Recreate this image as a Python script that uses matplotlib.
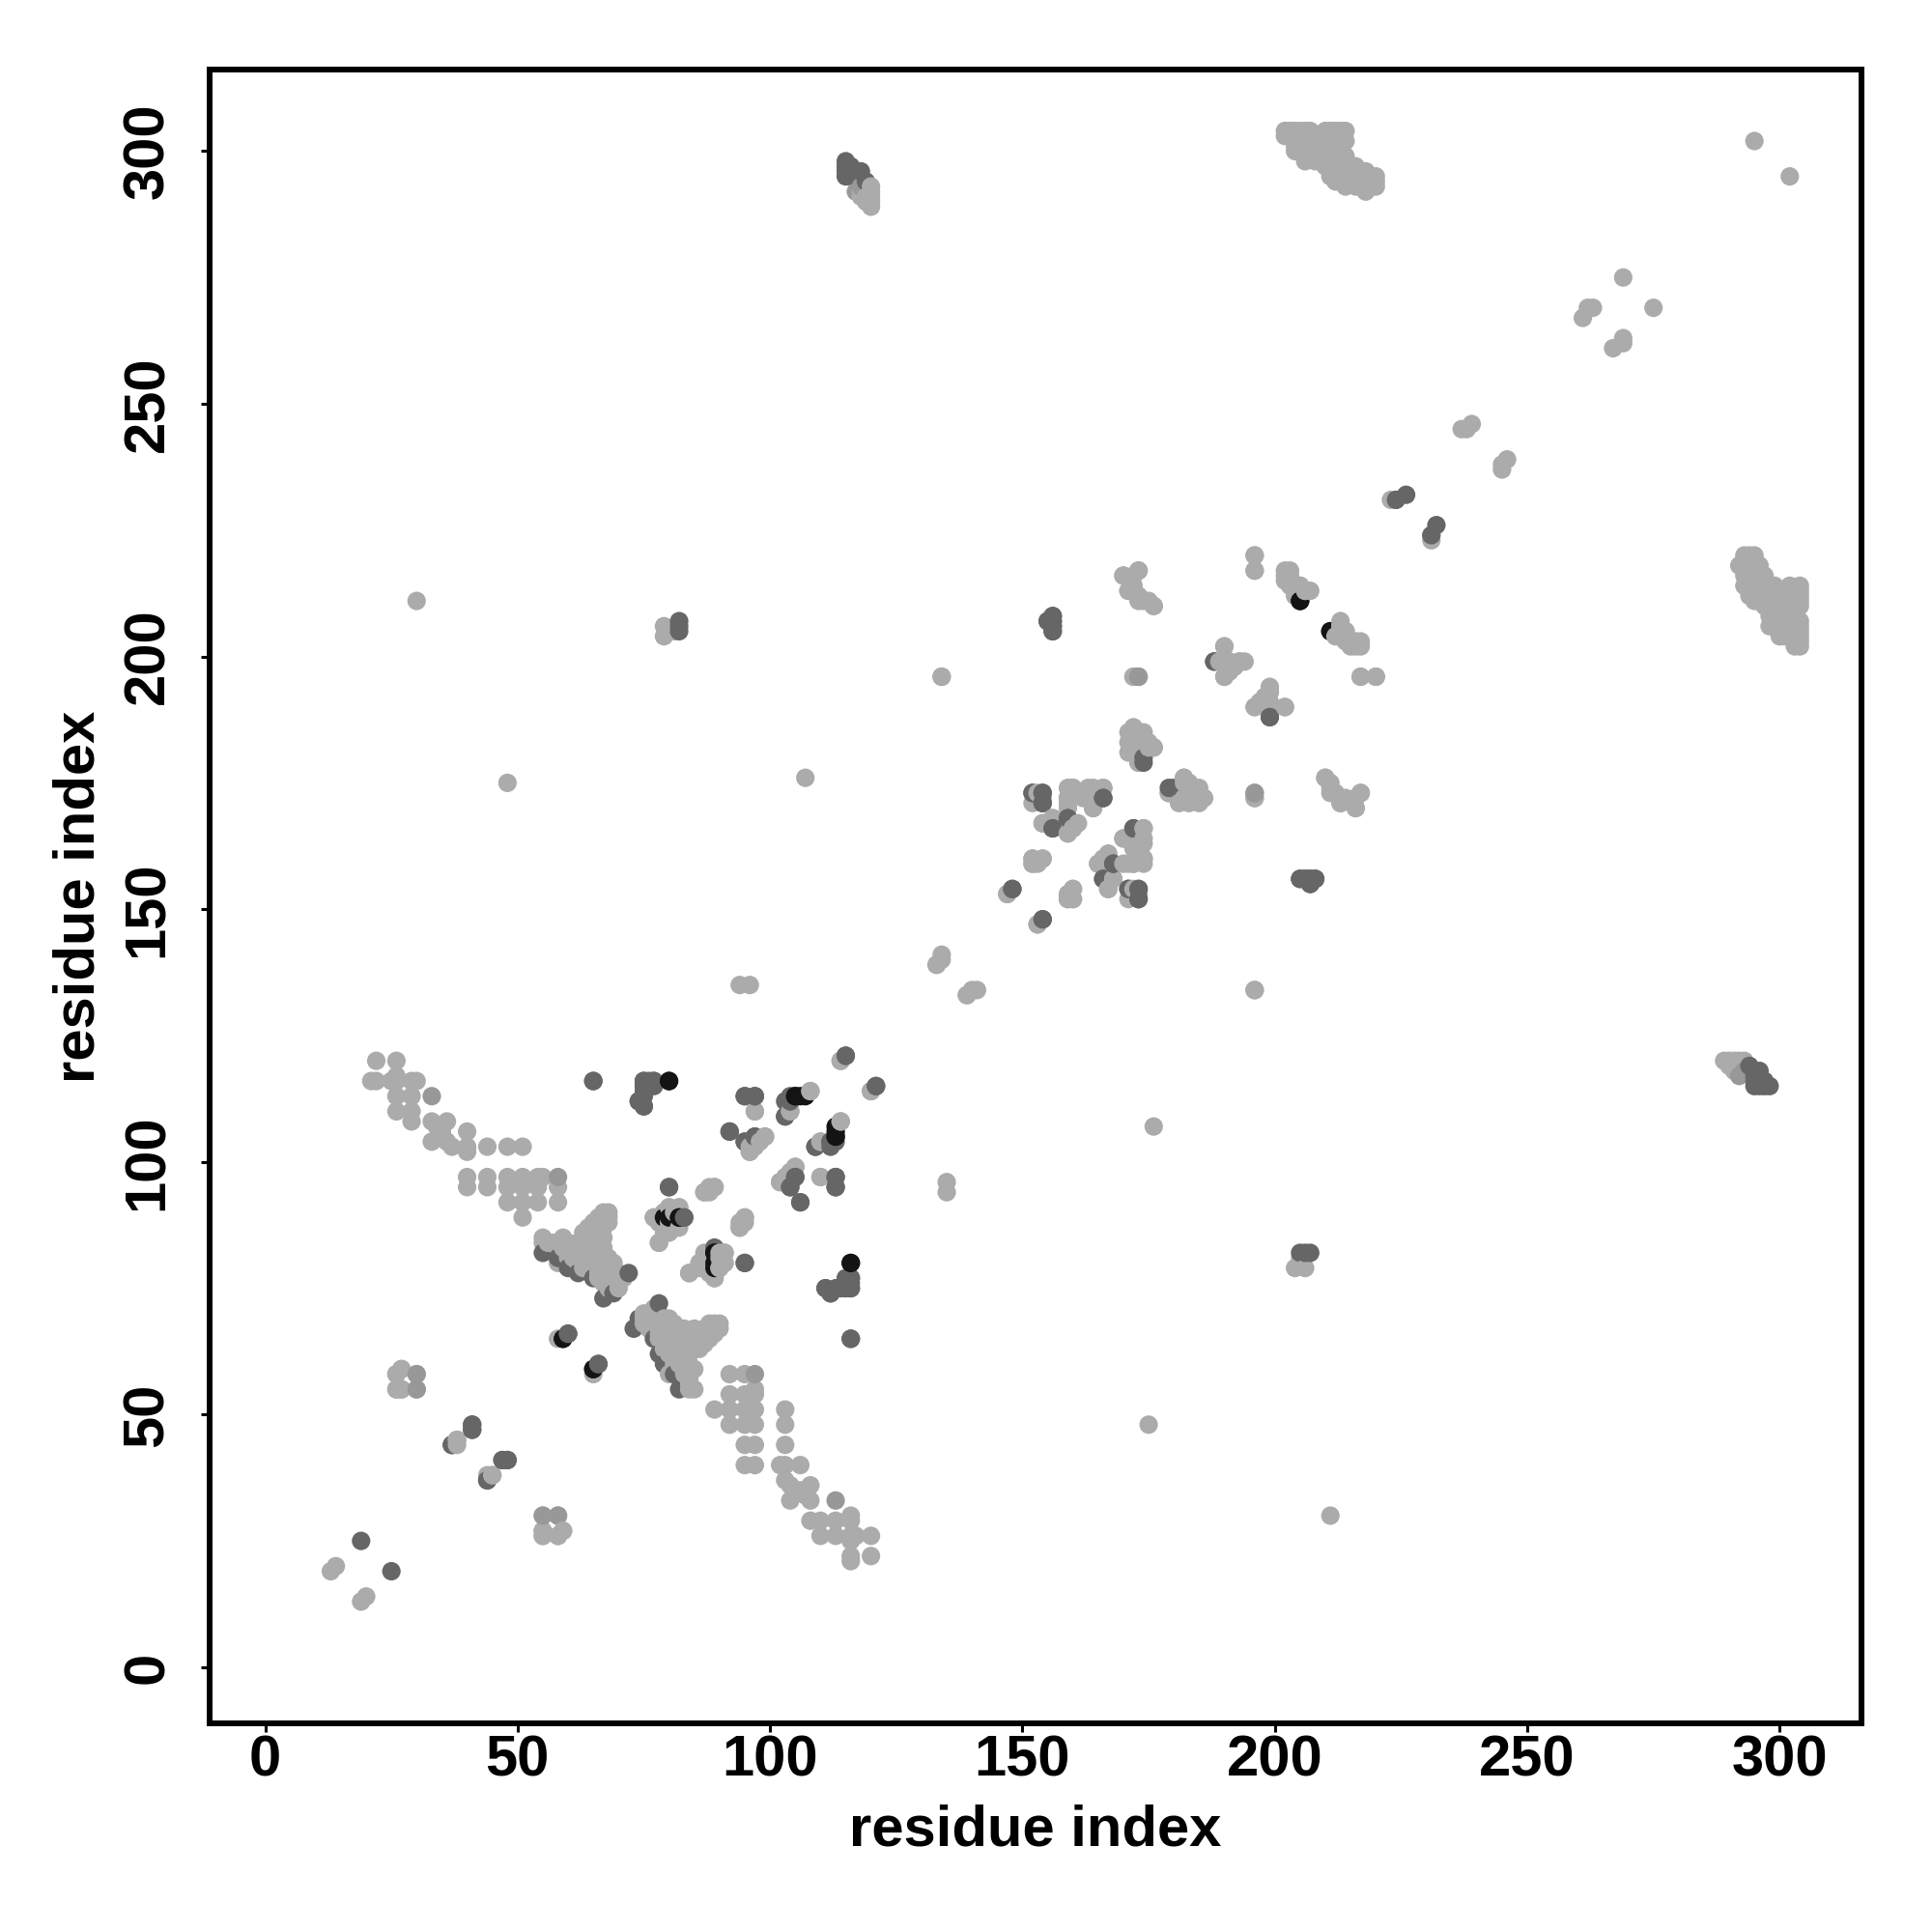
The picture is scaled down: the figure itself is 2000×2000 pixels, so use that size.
# Residue contact map, symmetric, points drawn in order of residue index
import numpy as np
import matplotlib
matplotlib.use('Agg')
import matplotlib.pyplot as plt

plt.rcParams['font.family'] = ['Liberation Sans', 'DejaVu Sans']
plt.rcParams['font.weight'] = 'bold'

tick_values = [0, 50, 100, 150, 200, 250, 300]

# Contacts (i, j) with i < j, the mirror (j, i) is added below
light_pairs = [
    (22,120),(26,120),(21,116),(22,116),(25,116),(26,116),(26,117),(29,116),(30,116),(26,113),(26,110),
    (29,113),(29,110),(29,108),(33,108),(33,104),(34,107),(35,105),(36,108),(36,104),(37,103),(35,106),(40,106),(40,103),(40,102),
    (44,103),(48,103),(51,103),(40,97),(40,95),(44,97),(44,95),(48,97),(48,95),(48,92),(51,97),
    (51,95),(51,92),(51,89),(54,97),(55,97),(54,95),(54,92),(58,95),(58,92),
    (55,85),(55,84),(59,85),(58,80),(68,90),(67,90),(66,89),(64,87),(63,85),(60,84),(62,84),(63,83),
    (65,82),(66,81),(64,81),(62,82),(67,79),(66,79),(68,77),(67,76),(69,76),(68,88),(65,85),(65,84),
    (67,83),(64,84),(66,83),(68,80),(65,80),(64,79),(63,80),
    (56,84),(57,84),(58,83),(59,83),(60,83),(61,83),(61,82),(60,82),(60,81),(61,81),(62,81),(62,80),
    (63,79),(64,80),(65,78),(66,78),(66,77),(67,78),(68,78),(69,77),(70,76),(68,76),(68,75),(69,75),(70,75),
    (63,86),(64,85),(65,86),(66,87),(67,87),(67,85),(66,85),(66,84),(65,88),(67,88),(68,89),
    (67,82),(68,81),(69,80),(69,79),(70,78),(71,77),(63,82),(64,82),(65,81),(64,83),
    (77,89),(80,91),(82,91),(78,84),(80,87),(82,87),(79,90),(81,90),(79,86),(78,88),
    (89,95),(87,94),(88,95),(95,89),(94,87),(94,88),
    (90,82),(91,82),(86,80),(84,78),(89,77),(87,79),(90,79),(91,80),(88,80),(88,78),
    (97,110),(96,102),(99,105),(98,104),(97,103),(104,110),(108,114),(114,120),(120,114),
    (114,108),(110,104),(105,99),(104,97),(102,96),(103,96),(110,97),
    (58,65),(26,58),(27,59),(26,55),(27,55),(38,45),(37,44),
    (44,38),(45,38),(55,30),(58,30),(55,27),(55,26),(58,26),(59,27),(13,19),(14,20),
    (134,196),(170,216),(173,217),(172,216),(171,213),(172,214),(173,211),(176,210),(175,211),
    (196,220),(196,217),(202,217),(203,214),(203,216),(206,213),(205,214),(204,213),
    (213,207),(214,205),(217,203),(215,202),(212,204),(213,206),(216,202),
    (190,202),(189,199),(193,199),(190,196),(191,197),(194,199),(192,198),
    (199,193),(196,190),(199,191),(202,190),(198,192),
    (172,186),(171,185),(171,183),(171,181),(174,185),(176,182),(173,179),(175,182),(173,183),
    (172,196),(217,196),(220,196),(182,176),(179,173),(182,172),(185,172),(184,174),(183,175),(184,172),
    (196,172),(210,176),(211,174),(213,172),(217,173),(216,170),(213,171),(212,173),
    (152,171),(154,171),(159,174),(159,170),(160,174),(159,172),(163,174),(166,174),(164,170),(165,172),
    (154,167),(156,168),(160,166),(159,165),(161,167),
    (170,164),(174,166),(174,164),(172,162),(174,160),(172,159),(171,159),(173,161),
    (165,159),(166,160),(168,156),(167,154),(152,160),(154,160),(152,159),(153,159),
    (147,153),(160,154),(159,152),(160,152),(172,154),(173,153),(153,147),
    (134,141),(133,139),(140,134),(139,133),(196,134),
    (118,291),(118,292),(119,290),(119,291),(120,293),(120,292),(120,291),(120,290),(120,289),
    (202,304),(203,304),(204,304),(205,304),(206,304),(207,304),(210,304),(211,304),(212,304),(213,304),(214,304),
    (202,303),(203,303),(205,303),(207,303),(210,303),(213,303),(204,301),(205,302),(206,298),(206,300),
    (208,298),(208,300),(208,301),(210,300),(210,298),(212,302),(213,302),(213,300),(212,298),(211,295),(210,297),(214,297),
    (216,297),(217,296),(218,294),(220,294),(220,293),(220,295),(218,292),(218,296),(215,294),(214,295),(216,293),
    (214,293),(212,294),(212,296),(214,299),(214,302),(211,302),(207,302),(204,302),(211,300),(204,300),
    (295,302),(269,275),(263,269),(262,269),(261,267),(238,245),(239,246),(237,245),(224,231),(223,231),
    (30,211),(48,175),(107,176),(94,135),(96,135),(79,206),(79,204),(81,205),
]
gray_pairs = [
    (33,113),(30,58),(30,55),(58,97),(173,196),(196,173),(117,292),(118,293),
]
mid_pairs = [
    (55,82),(58,81),(60,79),(62,78),(65,77),(67,73),(72,78),(69,74),
    (65,116),(75,116),(76,116),(77,116),(74,112),(75,111),(75,113),(75,115),
    (80,95),(83,89),(89,83),(95,80),(95,113),(97,113),(92,106),(95,104),(97,105),
    (103,112),(104,112),(103,109),(104,113),(115,121),(121,115),(112,104),(109,103),
    (105,97),(104,95),(106,92),(113,97),(113,95),(115,77),(114,75),(116,75),(111,75),(112,74),(116,77),
    (116,65),(60,66),(66,60),(41,48),(41,47),(37,44),(47,41),(48,41),(44,37),(19,25),
    (156,208),(155,207),(156,207),(156,206),(156,205),(188,199),(174,179),(180,174),
    (154,173),(152,173),(154,171),(166,172),(156,166),(159,168),(172,166),(168,159),(166,156),
    (148,154),(173,154),(171,154),(173,152),(154,148),(207,156),(205,156),(206,156),(208,156),(207,155),
    (199,188),(82,207),(82,206),(82,205),(226,232),(231,224),
    (115,298),(115,297),(115,296),(115,295),(116,297),(116,296),(116,295),(117,296),(117,295),(118,296),(119,294),
]
black_pairs = [
    (80,116),(105,113),(106,113),(113,107),(113,105),(79,89),(82,89),(89,82),(89,80),(59,65),(65,59),
    (116,80),(205,211),(211,205),
]

light_color = '#ababab'
gray_color = '#989898'
mid_color = '#666666'
black_color = '#141414'

x = []
y = []
c = []
for pairs, col in [(light_pairs, light_color), (gray_pairs, gray_color),
                   (mid_pairs, mid_color), (black_pairs, black_color)]:
    for i, j in pairs:
        x += [i, j]
        y += [j, i]
        c += [col, col]
x = np.array(x)
y = np.array(y)
c = np.array(c)
order = np.argsort(x, kind='stable')

fig = plt.figure(figsize=(20, 20), dpi=100)
ax = fig.add_axes([216.5/2000, 1 - 1784/2000, (1927 - 216.5)/2000, (1784 - 71.7)/2000])
ax.scatter(x[order], y[order], c=c[order], s=190, linewidths=0)

ax.set_xlim(-11.1, 316.2)
ax.set_ylim(-11.1, 316.2)
ax.set_xticks(tick_values)
ax.set_yticks(tick_values)
for s in ax.spines.values():
    s.set_linewidth(4.3)
ax.tick_params(axis='x', length=6.5, width=2.2, labelsize=43, pad=1.5)
ax.tick_params(axis='y', length=6.5, width=2.2, labelsize=43, pad=19)
plt.setp(ax.get_yticklabels(), rotation=90, va='center')

ax.set_xlabel('residue index', fontsize=43, fontweight='bold', va='center')
ax.set_ylabel('residue index', fontsize=43, fontweight='bold', va='center')
ax.xaxis.set_label_coords(0.5, -0.0647)
ax.yaxis.set_label_coords(-0.0788, 0.5)

fig.savefig('out.png', dpi=100, facecolor='white')
